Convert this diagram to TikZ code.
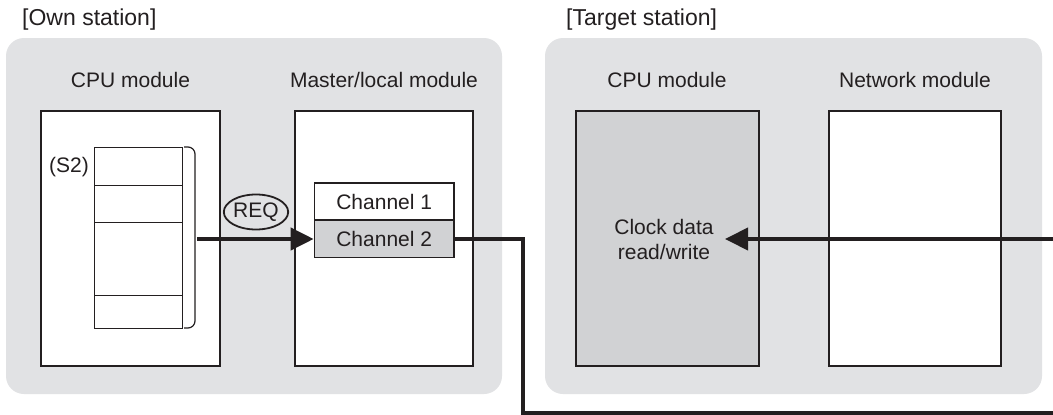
\documentclass[tikz,border=0pt]{standalone}
\usepackage{fontspec}
\setmainfont{Liberation Sans}
\usetikzlibrary{arrows.meta,shapes.geometric}
\definecolor{ink}{HTML}{231F20}
\definecolor{panelgray}{HTML}{E1E2E4}
\definecolor{boxgray}{HTML}{D1D2D4}
\begin{document}
\begin{tikzpicture}[x=1pt,y=-1pt,
  font=\fontsize{21}{25}\selectfont, text=ink,
  panel/.style={fill=panelgray, rounded corners=18pt},
  module/.style={draw=ink, line width=2pt, fill=white, inner sep=0pt},
  cell/.style={draw=ink, line width=1.3pt, fill=white, inner sep=0pt, minimum width=87.5pt},
  chan/.style={draw=ink, line width=1.5pt, inner sep=0pt, minimum width=139.6pt, minimum height=37pt},
  title/.style={anchor=base west, inner sep=0pt, font=\fontsize{23}{27}\selectfont},
  modlabel/.style={anchor=base},
  conn/.style={draw=ink, line width=4pt},
  tip/.style={-{Triangle[length=23pt,width=22pt]}}
]
\clip (0,0) rectangle (1053,415);
\fill[white] (0,0) rectangle (1053,415);

% panels
\fill[panel] (6,38) rectangle (502,394);
\fill[panel] (545,38) rectangle (1042,394);
\node[title] (owntitle) at (22,25.5) {[Own station]};
\node[title] (tgttitle) at (566,25.5) {[Target station]};

% module labels
\node[modlabel] (l1) at (130.5,87) {CPU module};
\node[modlabel] (l2) at (384,87) {Master/local module};
\node[modlabel] (l3) at (667,87) {CPU module};
\node[modlabel] (l4) at (915,87) {Network module};

% module boxes
\node[module, minimum width=179pt, minimum height=255pt] (cpu1) at (130.5,238.5) {};
\node[module, minimum width=178pt, minimum height=255pt] (master) at (384,238.5) {};
\node[module, fill=boxgray, minimum width=183pt, minimum height=255pt] (cpu2) at (667,238.5) {};
\node[module, minimum width=172pt, minimum height=255pt] (net) at (915,238.5) {};

% S2 stack
\node[cell, minimum height=38pt, anchor=north west] (s2a) at (94,147) {};
\node[cell, minimum height=37pt, anchor=north west] (s2b) at (94,185) {};
\node[cell, minimum height=73pt, anchor=north west] (s2c) at (94,222) {};
\node[cell, minimum height=33pt, anchor=north west] (s2d) at (94,295) {};
\node (s2lbl) at (69,167) {(S2)};
\draw[ink, line width=1.2pt, rounded corners=7pt] (184,147) -- (195,147) -- (195,328) -- (184,328);
\coordinate (brk) at (197,239);

% channels
\node[chan, fill=white] (ch1) at (384.2,201.5) {Channel 1};
\node[chan, fill=boxgray] (ch2) at (384.2,239) {Channel 2};

% REQ
\node[ellipse, draw=ink, line width=1.8pt, inner sep=0pt, minimum width=60pt, minimum height=35pt] (req) at (256,212) {REQ};

% clock data
\node[align=center] (clk) at (664,239) {Clock data\\read/write};
\coordinate (clktip) at (725,239);
\coordinate (c1) at (523,239);
\coordinate (c2) at (523,413);
\coordinate (c3) at (1062,413);
\coordinate (c4) at (1062,239);

% connectors
\draw[conn, tip] (brk) -- (ch2.west);
\draw[conn, tip, line join=miter] (ch2.east) -- (c1) -- (c2) -- (c3) -- (c4) -- (clktip);
\end{tikzpicture}
\end{document}
